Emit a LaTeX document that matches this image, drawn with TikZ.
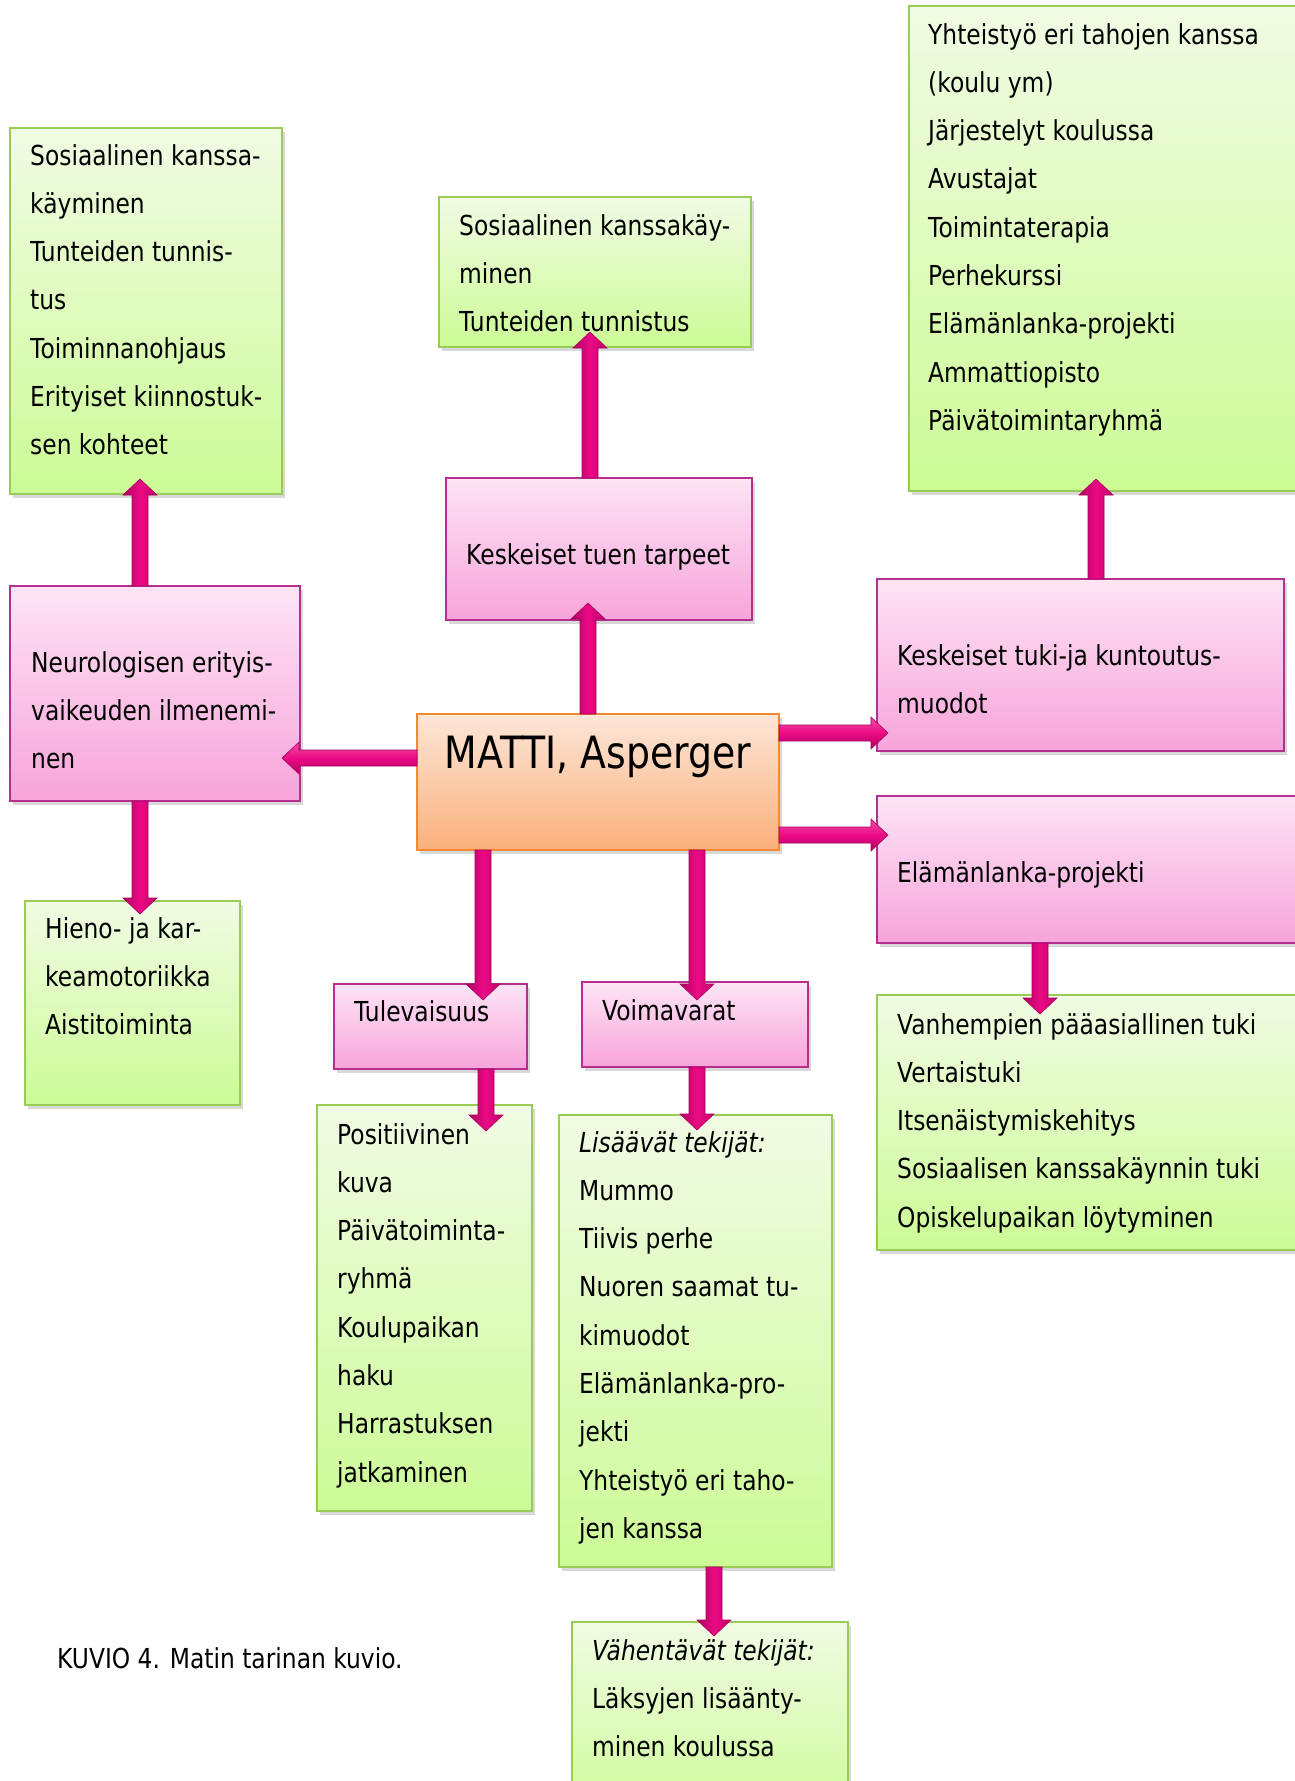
\documentclass[tikz,border=0pt]{standalone}
\usepackage{fontspec}
\setmainfont{DejaVu Sans}[FakeStretch=0.85]
\usetikzlibrary{calc,shadows}
\definecolor{gtop}{HTML}{F1FBE4}
\definecolor{gbot}{HTML}{CCFB96}
\definecolor{gborder}{HTML}{98CC55}
\definecolor{ptop}{HTML}{FDE4F5}
\definecolor{pbot}{HTML}{F7A4DA}
\definecolor{pborder}{HTML}{B4308F}
\definecolor{otop}{HTML}{FDE6D8}
\definecolor{obot}{HTML}{FAB07C}
\definecolor{oborder}{HTML}{F28A30}
\definecolor{adark}{HTML}{B20062}
\definecolor{aedge}{HTML}{C4006C}
\definecolor{amid}{HTML}{EA0A84}
\definecolor{alight}{HTML}{F24EA8}
\definecolor{aline}{HTML}{A8005C}
\newcommand\bx[6]{\node[#1, minimum width=#5pt, minimum height=#6pt] (#2) at (#3,#4) {};}
% text node: anchored at the baseline of its last line (#5 lines, first baseline at dy=#4)
\newcommand\tx[6]{\node[txt] (#1) at ($(#2.north west)+(#3,{#4+(#5-1)*48.3})$) {#6};}
\newcommand\varr[2]{\shadedraw[varrow] let \p1=(#1),\p2=(#2),\n3={sign(\y2-\y1)} in
  (\x1-8pt,\y1) -- (\x1-8pt,{\y2-(\n3)*16pt}) -- (\x1-17pt,{\y2-(\n3)*16pt}) -- (\x1,\y2)
  -- (\x1+17pt,{\y2-(\n3)*16pt}) -- (\x1+8pt,{\y2-(\n3)*16pt}) -- (\x1+8pt,\y1) -- cycle;}
\newcommand\harr[2]{\shadedraw[harrow] let \p1=(#1),\p2=(#2),\n3={sign(\x2-\x1)} in
  (\x1,\y1+8pt) -- ({\x2-(\n3)*17pt},\y1+8pt) -- ({\x2-(\n3)*17pt},\y1+16pt) -- (\x2,\y1)
  -- ({\x2-(\n3)*17pt},\y1-16pt) -- ({\x2-(\n3)*17pt},\y1-8pt) -- (\x1,\y1-8pt) -- cycle;}
\begin{document}
\begin{tikzpicture}[x=1pt,y=-1pt,
  box/.style={rectangle, anchor=north west, inner sep=0pt, outer sep=0pt, line width=1.6pt,
    drop shadow={shadow xshift=3pt, shadow yshift=-4pt, opacity=0.3}},
  gbox/.style={box, draw=gborder, top color=gtop, bottom color=gbot},
  pbox/.style={box, draw=pborder, top color=ptop, bottom color=pbot},
  obox/.style={box, draw=oborder, top color=otop, bottom color=obot},
  txt/.style={anchor=base west, align=left, inner sep=0pt, font=\fontsize{27.5}{48.3}\selectfont},
  varrow/.style={left color=adark, right color=aedge, middle color=amid, draw=aline, line width=0.6pt},
  harrow/.style={top color=alight, bottom color=adark, middle color=amid, draw=aline, line width=0.6pt}]
\useasboundingbox (0,0) rectangle (1294,1781);
\fill[white] (0,0) rectangle (1294,1781);
% boxes
\bx{gbox}{tl}{10}{128}{272}{366}
\bx{gbox}{tm}{439}{197}{312}{150}
\bx{gbox}{tr}{909}{6}{400}{485}
\bx{pbox}{ktt}{446}{478}{306}{142}
\bx{pbox}{neu}{10}{586}{290}{215}
\bx{obox}{matti}{417}{714}{362}{136}
\bx{pbox}{kkm}{877}{579}{407}{172}
\bx{pbox}{ela}{877}{796}{430}{147}
\bx{gbox}{hie}{25}{901}{215}{204}
\bx{pbox}{tul}{334}{984}{193}{85}
\bx{pbox}{voi}{582}{982}{226}{85}
\bx{gbox}{pos}{317}{1105}{215}{406}
\bx{gbox}{lis}{559}{1115}{273}{452}
\bx{gbox}{vah}{572}{1622}{276}{200}
\bx{gbox}{van}{877}{995}{430}{255}
% texts
\tx{ttl}{tl}{20}{37}{7}{Sosiaalinen kanssa-\\käyminen\\Tunteiden tunnis-\\tus\\Toiminnanohjaus\\Erityiset kiinnostuk-\\sen kohteet}
\tx{ttm}{tm}{20}{38}{3}{Sosiaalinen kanssakäy-\\minen\\Tunteiden tunnistus}
\tx{ttr}{tr}{19}{38}{9}{Yhteistyö eri tahojen kanssa\\(koulu ym)\\Järjestelyt koulussa\\Avustajat\\Toimintaterapia\\Perhekurssi\\Elämänlanka-projekti\\Ammattiopisto\\Päivätoimintaryhmä}
\tx{tktt}{ktt}{20}{86}{1}{Keskeiset tuen tarpeet}
\tx{tneu}{neu}{21}{86}{3}{Neurologisen erityis-\\vaikeuden ilmenemi-\\nen}
\node[anchor=base, inner sep=0pt, font=\fontsize{44.5}{50}\selectfont] (tmatti) at ($(matti.north)+(0,54)$) {MATTI, Asperger};
\tx{tkkm}{kkm}{20}{86}{2}{Keskeiset tuki-ja kuntoutus-\\muodot}
\tx{tela}{ela}{20}{86}{1}{Elämänlanka-projekti}
\tx{thie}{hie}{20}{37}{3}{Hieno- ja kar-\\keamotoriikka\\Aistitoiminta}
\tx{ttul}{tul}{20}{37}{1}{Tulevaisuus}
\tx{tvoi}{voi}{20}{38}{1}{Voimavarat}
\tx{tpos}{pos}{20}{39}{8}{Positiivinen\\kuva\\Päivätoiminta-\\ryhmä\\Koulupaikan\\haku\\Harrastuksen\\jatkaminen}
\tx{tlis}{lis}{20}{37}{9}{\textit{Lisäävät tekijät:}\\Mummo\\Tiivis perhe\\Nuoren saamat tu-\\kimuodot\\Elämänlanka-pro-\\jekti\\Yhteistyö eri taho-\\jen kanssa}
\tx{tvah}{vah}{20}{38}{3}{\textit{Vähentävät tekijät:}\\Läksyjen lisäänty-\\minen koulussa}
\tx{tvan}{van}{20}{39}{5}{Vanhempien pääasiallinen tuki\\Vertaistuki\\Itsenäistymiskehitys\\Sosiaalisen kanssakäynnin tuki\\Opiskelupaikan löytyminen}
\node[txt] (cap) at (57,1668) {KUVIO 4. Matin tarinan kuvio.};
% arrows
\varr{$(matti.north west)+(171,0)$}{$(ktt.south)+(0,-17)$}
\varr{$(ktt.north west)+(144,0)$}{$(tm.south)+(0,-15)$}
\harr{$(matti.north west)+(0,44)$}{$(neu.east)+(-18,0)$}
\varr{$(neu.north west)+(130,0)$}{$(tl.south)+(0,-15)$}
\varr{$(neu.south west)+(130,0)$}{$(hie.north)+(0,13)$}
\harr{$(matti.north east)+(0,19)$}{$(kkm.west)+(11,0)$}
\harr{$(matti.north east)+(0,121)$}{$(ela.west)+(11,0)$}
\varr{$(kkm.north west)+(219,0)$}{$(tr.south)+(0,-12)$}
\varr{$(ela.south west)+(163,0)$}{$(van.north)+(0,19)$}
\varr{$(matti.south west)+(66,0)$}{$(tul.north)+(0,16)$}
\varr{$(matti.south west)+(280,0)$}{$(voi.north)+(0,18)$}
\varr{$(tul.south west)+(152,0)$}{$(pos.north)+(0,26)$}
\varr{$(voi.south west)+(115,0)$}{$(lis.north)+(0,15)$}
\varr{$(lis.south west)+(155,0)$}{$(vah.north)+(0,14)$}
\end{tikzpicture}
\end{document}
